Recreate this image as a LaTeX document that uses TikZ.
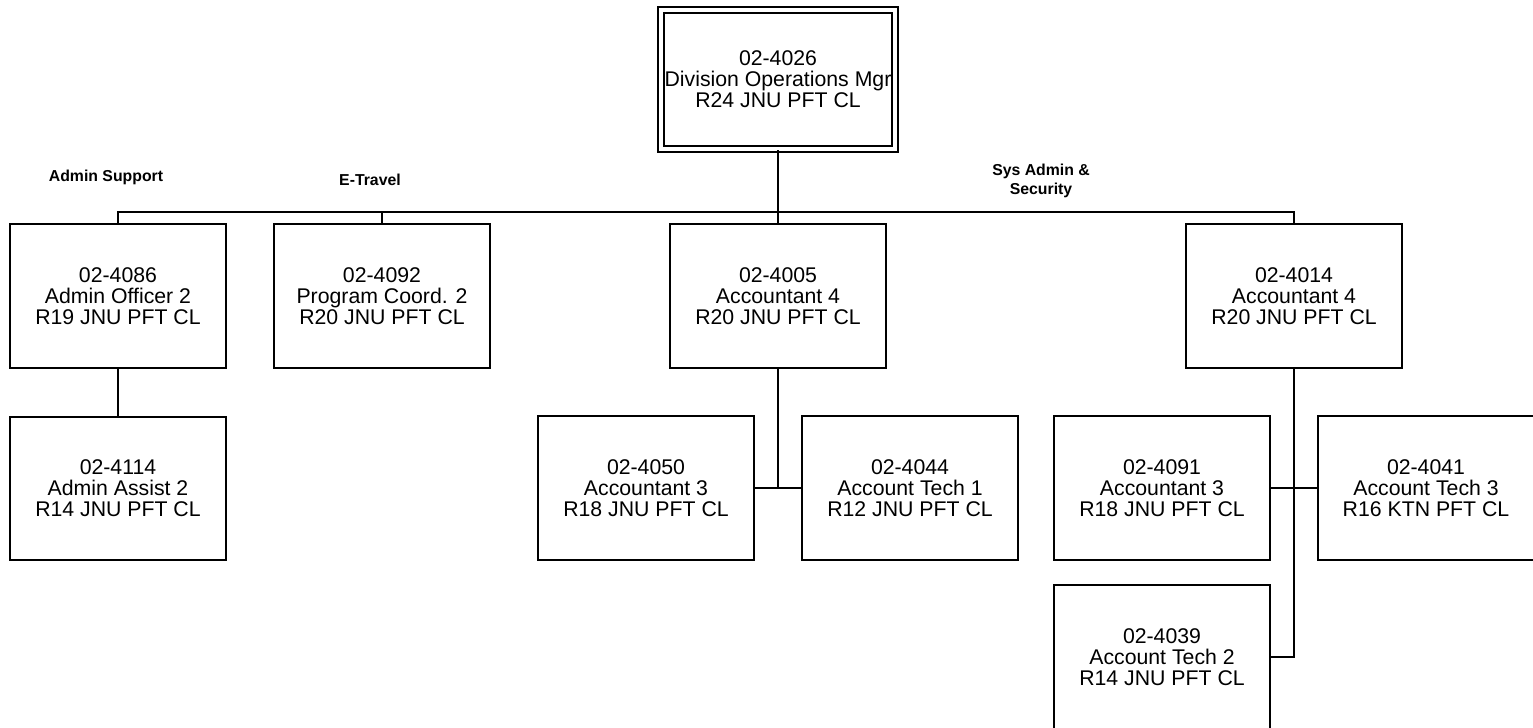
\documentclass[tikz,border=0pt]{standalone}
\usepackage{fontspec}
\setmainfont{Liberation Sans}
\usetikzlibrary{positioning}

\tikzset{
  posbox/.style={rectangle, draw, line width=0.04cm, minimum width=4.32cm, minimum height=2.88cm,
    inner sep=0pt, align=center, font=\fontsize{12.1}{12}\selectfont},
  headbox/.style={posbox, double, double distance=0.08cm, minimum width=4.7cm, minimum height=2.8cm},
  grouplabel/.style={align=center, inner sep=0pt, font=\fontsize{9}{10.8}\selectfont\bfseries},
  link/.style={line width=0.04cm}
}

\begin{document}
\begin{tikzpicture}[x=0.02cm, y=-0.02cm]
    \useasboundingbox (0,0) rectangle (1533,727);

    \node[headbox] (mgr) at (778,79.5) {02-4026\\Division Operations Mgr\\R24 JNU PFT CL};

    \node[posbox] (ao) at (118,296) {02-4086\\Admin Officer 2\\R19 JNU PFT CL};
    \node[posbox] (pc) at (382,296) {02-4092\\Program Coord. 2\\R20 JNU PFT CL};
    \node[posbox] (acca) at (778,296) {02-4005\\Accountant 4\\R20 JNU PFT CL};
    \node[posbox] (accb) at (1294,296) {02-4014\\Accountant 4\\R20 JNU PFT CL};

    \node[posbox] (aa) at (118,488.5) {02-4114\\Admin Assist 2\\R14 JNU PFT CL};
    \node[posbox] (acc3a) at (646,488) {02-4050\\Accountant 3\\R18 JNU PFT CL};
    \node[posbox] (tech1) at (910,488) {02-4044\\Account Tech 1\\R12 JNU PFT CL};
    \node[posbox] (acc3b) at (1162,488) {02-4091\\Accountant 3\\R18 JNU PFT CL};
    \node[posbox] (tech3) at (1426,488) {02-4041\\Account Tech 3\\R16 KTN PFT CL};
    \node[posbox] (tech2) at (1162,657) {02-4039\\Account Tech 2\\R14 JNU PFT CL};

    \node[grouplabel] (lbladmin) at (106,177) {Admin Support};
    \node[grouplabel] (lbltravel) at (370,180) {E-Travel};
    \node[grouplabel] (lblsys) at (1041,181) {Sys Admin \&\\Security};

    \coordinate (bus) at (778,212);

    \draw[link] (mgr.south) -- (bus);
    \draw[link] (ao.north) |- (bus);
    \draw[link] (pc.north) |- (bus);
    \draw[link] (acca.north) -- (bus);
    \draw[link] (accb.north) |- (bus);

    \draw[link] (ao) -- (aa);
    \draw[link] (acca.south) |- (acc3a.east);
    \draw[link] (acca.south) |- (tech1.west);
    \draw[link] (accb.south) |- (acc3b.east);
    \draw[link] (accb.south) |- (tech3.west);
    \draw[link] (accb.south) |- (tech2.east);
\end{tikzpicture}
\end{document}
